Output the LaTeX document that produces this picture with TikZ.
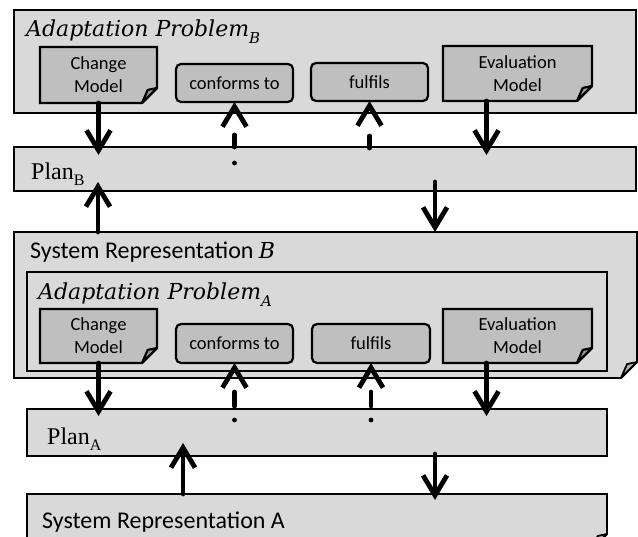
\documentclass[tikz,border=0pt]{standalone}
\usepackage{fontspec}
\newfontfamily\calibri{Carlito}
\newfontfamily\serifit{DejaVu Serif Italic}
\newfontfamily\planfont{Liberation Serif}
\usetikzlibrary{arrows.meta}

\definecolor{panelgray}{HTML}{D9D9D9}
\definecolor{modelgray}{HTML}{BFBFBF}
\definecolor{panelfold}{HTML}{B2B2B2}
\definecolor{modelfold}{HTML}{9C9C9C}

% Folded-corner outline drawn around an (invisible) node:
% #1 node, #2 fill, #3 fold fill, #4 fold size, #5 line width
\newcommand\docframe[5]{%
  \filldraw[fill=#2, line width=#5, line join=miter]
    (#1.north west) -- (#1.north east) -- ([yshift=#4]#1.south east)
    -- ([xshift=-#4]#1.south east) -- (#1.south west) -- cycle;
  \filldraw[fill=#3, line width=#5, line join=round]
    ([yshift=#4]#1.south east) -- ([xshift=-#4]#1.south east)
    -- ([xshift=-0.62*#4, yshift=0.87*#4]#1.south east) -- cycle;
}
% italic heading with a lowered, smaller subscript
\newcommand\itsub[2]{{\serifit #1\raisebox{-0.28em}{\fontsize{15}{15}\selectfont #2}}}

\tikzset{
  panel/.style={draw=black, fill=panelgray, line width=1.8pt, inner sep=0pt,
    outer sep=0pt, anchor=north west},
  docslot/.style={inner sep=0pt, outer sep=0pt, anchor=north west},
  relbox/.style={draw=black, fill=modelgray, line width=2.2pt, rounded corners=5pt,
    inner sep=0pt, outer sep=0pt, anchor=north west,
    font=\calibri\fontsize{18.5}{23}\selectfont},
  modeltext/.style={align=center, inner sep=0pt,
    font=\calibri\fontsize{18.5}{23}\selectfont},
  heading/.style={anchor=base west, inner sep=0pt},
  ithead/.style={heading, font=\serifit\fontsize{22}{22}\selectfont},
  sanshead/.style={heading, font=\calibri\fontsize{24}{24}\selectfont},
  planhead/.style={heading, font=\planfont\fontsize{24}{24}\selectfont},
  flow/.style={line width=4.8pt, line cap=round,
    -{Straight Barb[length=20pt,width=24pt]}},
}

\begin{document}
\begin{tikzpicture}[x=1pt, y=-1pt]
\useasboundingbox (0,0) rectangle (638,537);

% ---------- upper adaptation problem ----------
\node[panel, minimum width=622pt, minimum height=103pt] (apB) at (14,10) {};
\node[ithead] (apBlbl) at (26,37) {\itsub{Adaptation Problem}{B}};

\node[docslot, minimum width=117pt, minimum height=56pt] (cmB) at (40,47) {};
\docframe{cmB}{modelgray}{modelfold}{15pt}{2.2pt}
\node[modeltext] (cmBtxt) at (cmB) {Change\\Model};

\node[relbox, minimum width=117pt, minimum height=38pt] (cfB) at (176,64) {conforms to};
\node[relbox, minimum width=117pt, minimum height=38pt] (ffB) at (311,63) {fulfils};

\node[docslot, minimum width=149pt, minimum height=55pt] (emB) at (443,46) {};
\docframe{emB}{modelgray}{modelfold}{15pt}{2.2pt}
\node[modeltext] (emBtxt) at (emB) {Evaluation\\Model};

% ---------- plan B ----------
\node[panel, minimum width=622pt, minimum height=44pt] (planB) at (14,147) {};
\node[planhead] (planBlbl) at (31,180) {Plan\raisebox{-0.22em}{\fontsize{16}{16}\selectfont B}};

% ---------- system representation B ----------
\node[docslot, minimum width=623pt, minimum height=146pt] (sysB) at (14,232) {};
\docframe{sysB}{panelgray}{panelfold}{16pt}{1.8pt}
\node[sanshead] (sysBlbl) at (30,259) {System Representation {\serifit\fontsize{22}{22}\selectfont B}};

\node[panel, minimum width=580pt, minimum height=99pt] (apA) at (27,272) {};
\node[ithead] (apAlbl) at (38,300) {\itsub{Adaptation Problem}{A}};

\node[docslot, minimum width=117pt, minimum height=54pt] (cmA) at (40,309) {};
\docframe{cmA}{modelgray}{modelfold}{15pt}{2.2pt}
\node[modeltext] (cmAtxt) at (cmA) {Change\\Model};

\node[relbox, minimum width=117pt, minimum height=39pt] (cfA) at (176,324) {conforms to};
\node[relbox, minimum width=118pt, minimum height=39pt] (ffA) at (312,324) {fulfils};

\node[docslot, minimum width=149pt, minimum height=54pt] (emA) at (443,309) {};
\docframe{emA}{modelgray}{modelfold}{15pt}{2.2pt}
\node[modeltext] (emAtxt) at (emA) {Evaluation\\Model};

% ---------- plan A ----------
\node[panel, minimum width=580pt, minimum height=47pt] (planA) at (27,409) {};
\node[planhead] (planAlbl) at (47,445) {Plan\raisebox{-0.22em}{\fontsize{16}{16}\selectfont A}};

% ---------- system representation A ----------
\node[docslot, minimum width=580pt, minimum height=55pt] (sysA) at (27,494) {};
\docframe{sysA}{panelgray}{panelfold}{15pt}{1.8pt}
\node[sanshead] (sysAlbl) at (42,529) {System Representation A};

% ---------- connectors, level B ----------
\draw[flow] (cmB.south) -- ([yshift=-8pt]cmB.south |- planB.north);
\draw[flow] ([xshift=-31pt]emB.south) -- ([xshift=-31pt, yshift=-8pt]emB.south |- planB.north);
\draw[flow, dash pattern=on 0pt off 16pt on 12pt off 60pt]
  ([yshift=-16pt]cfB.south |- planB.north) -- (cfB.south);
\draw[flow, dash pattern=on 12pt off 60pt]
  ([yshift=-1pt]ffB.south |- planB.north) -- (ffB.south);

\draw[flow] ([xshift=84pt]sysB.north west) -- ([xshift=84pt, yshift=9pt]planB.south west);
\draw[flow] ([xshift=421pt, yshift=9pt]planB.south west) -- ([xshift=421pt]sysB.north west);

% ---------- connectors, level A ----------
\draw[flow] (cmA.south) -- ([yshift=-7pt]cmA.south |- planA.north);
\draw[flow] ([xshift=-31pt]emA.south) -- ([xshift=-31pt, yshift=-7pt]emA.south |- planA.north);
\draw[flow, dash pattern=on 0pt off 14pt on 14pt off 60pt]
  ([yshift=-11pt]cfA.south |- planA.north) -- (cfA.south);
\draw[flow, dash pattern=on 0pt off 14pt on 14pt off 60pt]
  ([yshift=-11pt]ffA.south |- planA.north) -- (ffA.south);

\draw[flow] ([xshift=156pt]sysA.north west) -- ([xshift=156pt, yshift=13pt]planA.south west);
\draw[flow] ([xshift=408pt, yshift=2pt]planA.south west) -- ([xshift=408pt, yshift=-6pt]sysA.north west);
\end{tikzpicture}
\end{document}
